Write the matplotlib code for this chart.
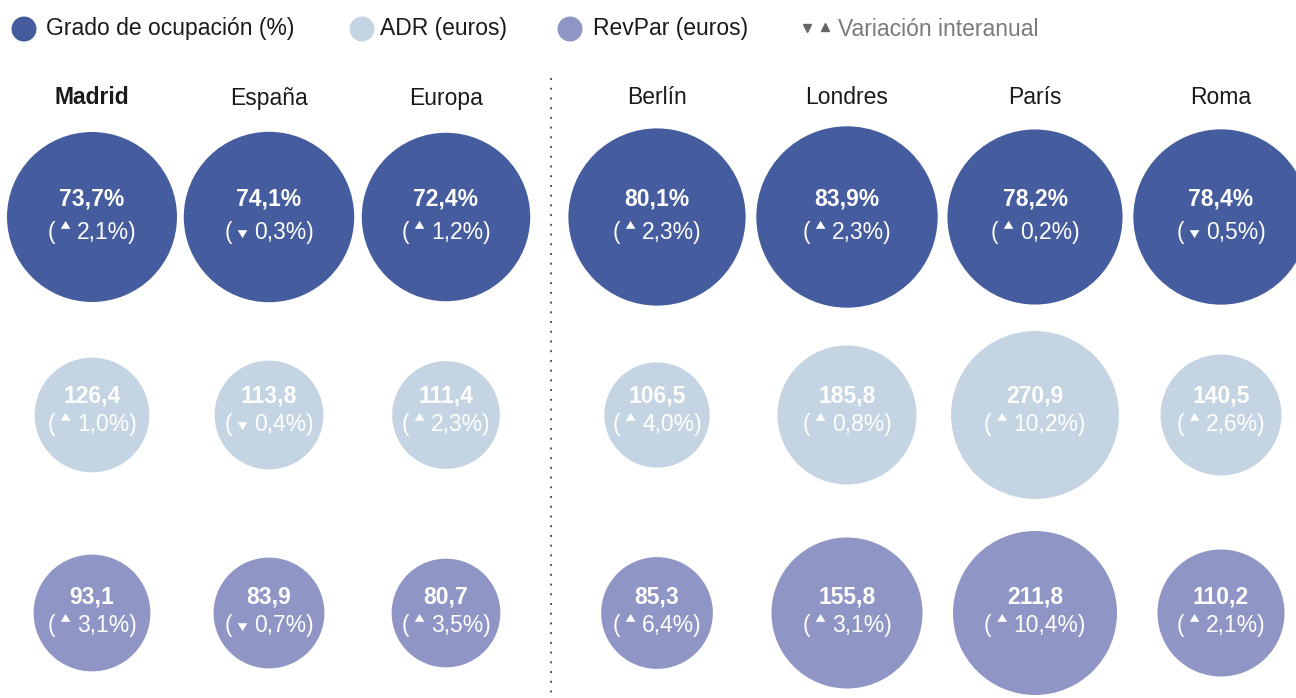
import numpy as np
import matplotlib
matplotlib.use("Agg")
import matplotlib.pyplot as plt
from matplotlib.patches import Circle, Polygon
from matplotlib.offsetbox import TextArea, DrawingArea, HPacker, AnnotationBbox

plt.rcParams["font.family"] = ["Liberation Sans", "DejaVu Sans"]

cities = ["Madrid", "España", "Europa", "Berlín", "Londres", "París", "Roma"]
ocupacion = [73.7, 74.1, 72.4, 80.1, 83.9, 78.2, 78.4]
ocupacion_var = [2.1, -0.3, 1.2, 2.3, 2.3, 0.2, -0.5]
adr = [126.4, 113.8, 111.4, 106.5, 185.8, 270.9, 140.5]
adr_var = [1.0, -0.4, 2.3, 4.0, 0.8, 10.2, 2.6]
revpar = [93.1, 83.9, 80.7, 85.3, 155.8, 211.8, 110.2]
revpar_var = [3.1, -0.7, 3.5, 6.4, 3.1, 10.4, 2.1]

C_OCC, C_ADR, C_REV = "#455c9e", "#c5d4e3", "#8f96c6"
TXT = "#1a1a1a"
FS = 16.5

W, H = 1296, 698
fig = plt.figure(figsize=(W / 100, H / 100), dpi=100)
ax = fig.add_axes([0, 0, 1, 1])
ax.set_xlim(0, W)
ax.set_ylim(H, 0)
ax.axis("off")

col_x = [92, 269, 446, 657, 847, 1035, 1221]
# row: values, variations, colour, sqrt-scale factor, max radius, circle y, value y, var y, suffix
rows = [
    (ocupacion, ocupacion_var, C_OCC, 9.9, 95, 217, 199, 232, "%"),
    (adr, adr_var, C_ADR, 5.1, 85, 415, 396, 424, ""),
    (revpar, revpar_var, C_REV, 6.05, 82, 613, 597, 625, ""),
]


def fmt(v, suffix=""):
    return f"{v:.1f}".replace(".", ",") + suffix


def tri_box(up, color):
    da = DrawingArea(16, 13, 0, 0)
    if up:
        pts = [(4.3, 7.0), (11.2, 7.0), (7.75, 12.7)]
    else:
        pts = [(4.3, 6.0), (11.2, 6.0), (7.75, 0.3)]
    da.add_artist(Polygon(pts, closed=True, fc=color, ec="none"))
    return da


for vals, vars_, color, k, rmax, cy, vy, wy, suf in rows:
    for x, v, d in zip(col_x, vals, vars_):
        r = min(k * np.sqrt(v), rmax)
        ax.add_patch(Circle((x, cy), r, fc=color, ec="none"))
        ax.text(x, vy, fmt(v, suf), ha="center", va="center", color="white",
                fontsize=FS, fontweight="bold")
        tp = dict(color="white", fontsize=FS)
        box = HPacker(children=[TextArea("(", textprops=tp), tri_box(d >= 0, "white"),
                                TextArea(fmt(abs(d), "%)"), textprops=tp)],
                      align="baseline", pad=0, sep=0)
        ax.add_artist(AnnotationBbox(box, (x, wy), frameon=False, pad=0,
                                     box_alignment=(0.5, 0.5)))

# column headers
for i, (x, name) in enumerate(zip(col_x, cities)):
    ax.text(x, 98, name, ha="center", va="center", color=TXT, fontsize=FS,
            fontweight="bold" if i == 0 else "normal")

# divider
ax.plot([551, 551], [78, H], color="#555555", lw=1.4, ls=(0, (1, 4)))

# legend
for cx, c, lab, tx in [(24, C_OCC, "Grado de ocupación (%)", 46),
                       (362, C_ADR, "ADR (euros)", 380),
                       (570, C_REV, "RevPar (euros)", 593)]:
    ax.add_patch(Circle((cx, 29), 12.5, fc=c, ec="none"))
    ax.text(tx, 29, lab, ha="left", va="center", color=TXT, fontsize=FS)
ax.plot([807], [28], marker="v", color="#666666", ms=5.5, ls="none")
ax.plot([825], [27], marker="^", color="#666666", ms=5.5, ls="none")
ax.text(838, 29, "Variación interanual", ha="left", va="center", color="#7a7a7a",
        fontsize=FS)

fig.savefig("out.png", dpi=100)
